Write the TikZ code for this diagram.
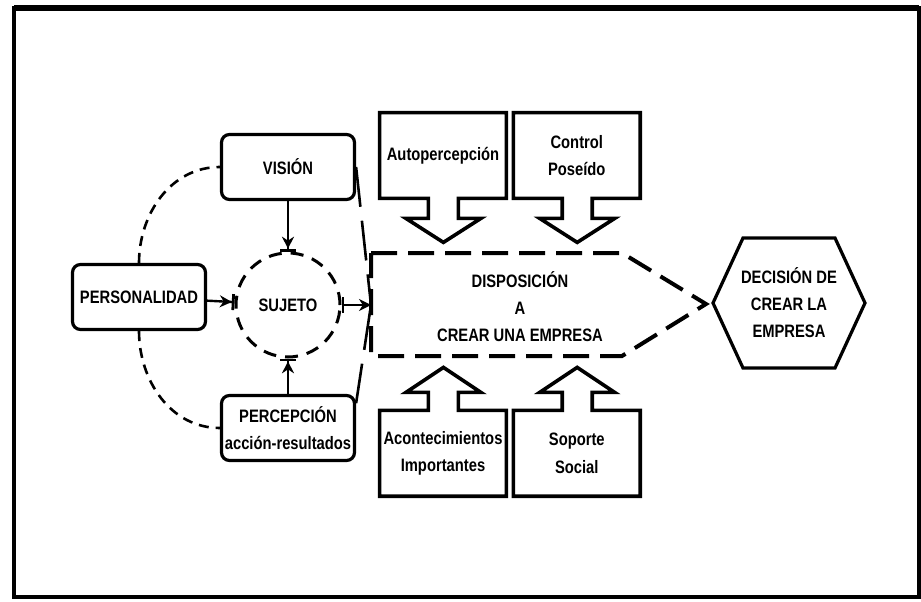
\documentclass[tikz,border=0pt]{standalone}
\usepackage{fontspec}
\setmainfont[FakeStretch=0.82]{Liberation Sans}
\usetikzlibrary{positioning,arrows.meta}

\begin{document}
\begin{tikzpicture}[
    x=0.5pt, y=0.5pt,
    font=\fontsize{9}{13.5}\selectfont\bfseries,
    box/.style={rectangle, draw, line width=1.6pt, rounded corners=4pt, minimum width=66.5pt, minimum height=32.5pt, inner sep=0pt, align=center},
    factor/.style={rectangle, minimum width=63pt, minimum height=42.5pt, inner sep=0pt, align=center},
    subject/.style={circle, draw, line width=1.5pt, dash pattern=on 6.5pt off 4.5pt, minimum size=52pt, inner sep=0pt},
    outline/.style={line width=1.8pt, line join=miter},
    displine/.style={line width=2pt, dash pattern=on 13pt off 5.5pt, line join=miter},
    hexline/.style={line width=1.6pt, line join=miter},
    arrow/.style={line width=1.2pt, -{Stealth[length=6pt,width=6pt]Bar[width=8pt,line width=1.4pt]}},
    outarrow/.style={line width=1.2pt, {Bar[width=8pt,line width=1.4pt]}-{Stealth[length=6pt,width=6pt]}},
    funnel/.style={line width=1.3pt, dash pattern=on 20pt off 7pt},
    linkcurve/.style={line width=1.3pt, dash pattern=on 5pt off 3.5pt}
]
    \useasboundingbox (0,0) rectangle (921,601);
    % Frame
    \draw [line width=2pt] (14,4) rectangle (919,593);
    \draw [line width=3pt] (14,593) -- (919,593);

    % Left side
    \node [box] (personalidad) at (139,304) {PERSONALIDAD};
    \node [box] (vision) at (288,434) {VISIÓN};
    \node [box] (percepcion) at (288,173) {PERCEPCIÓN\\acción-resultados};
    \node [subject] (sujeto) at (288,296) {SUJETO};

    % Factors
    \node [factor] (autop) at (443,445.5) {Autopercepción};
    \node [factor, right=3.5pt of autop] (control) {Control\\Poseído};
    \node [factor, below=106pt of autop] (acont) {Acontecimientos\\Importantes};
    \node [factor, right=3.5pt of acont] (soporte) {Soporte\\Social};

    \draw [outline] (autop.south west) -- (autop.north west) -- (autop.north east) -- (autop.south east) -- ++(-48,0) -- ++(0,-20) -- ++(22.5,0) -- ++(-37.5,-24) -- ++(-37.5,24) -- ++(22.5,0) -- ++(0,20) -- cycle;
    \draw [outline] (control.south west) -- (control.north west) -- (control.north east) -- (control.south east) -- ++(-48,0) -- ++(0,-20) -- ++(22.5,0) -- ++(-37.5,-24) -- ++(-37.5,24) -- ++(22.5,0) -- ++(0,20) -- cycle;
    \draw [outline] (acont.north west) -- (acont.south west) -- (acont.south east) -- (acont.north east) -- ++(-48,0) -- ++(0,18) -- ++(22.5,0) -- ++(-37.5,25) -- ++(-37.5,-25) -- ++(22.5,0) -- ++(0,-18) -- cycle;
    \draw [outline] (soporte.north west) -- (soporte.south west) -- (soporte.south east) -- (soporte.north east) -- ++(-48,0) -- ++(0,18) -- ++(22.5,0) -- ++(-37.5,25) -- ++(-37.5,-25) -- ++(22.5,0) -- ++(0,-18) -- cycle;

    % Disposition
    \coordinate (dispW) at (371,296);
    \node [align=center] (disposicion) at (520,294) {DISPOSICIÓN\\A\\CREAR UNA EMPRESA};
    \draw [displine] (371,348) -- (622,348) -- (706,297) -- (622,245) -- (371,245) -- cycle;

    % Decision
    \node [align=center] (decision) at (789,298) {DECISIÓN DE\\CREAR LA\\EMPRESA};
    \draw [hexline] (decision.center) ++(-76,0) -- ++(30,65) -- ++(92,0) -- ++(30,-65) -- ++(-30,-65) -- ++(-92,0) -- cycle;

    % Connections
    \draw [arrow] (personalidad) -- (sujeto);
    \draw [arrow] (vision) -- (sujeto);
    \draw [arrow] (percepcion) -- (sujeto);
    \draw [outarrow] (sujeto) -- (dispW);
    \draw [funnel] (vision.east) -- (dispW);
    \draw [funnel] (percepcion.20) -- (dispW);
    \draw [linkcurve] (personalidad.north) to [out=90, in=180] (vision.west);
    \draw [linkcurve] (personalidad.south) to [out=-90, in=180] (percepcion.west);
\end{tikzpicture}
\end{document}
